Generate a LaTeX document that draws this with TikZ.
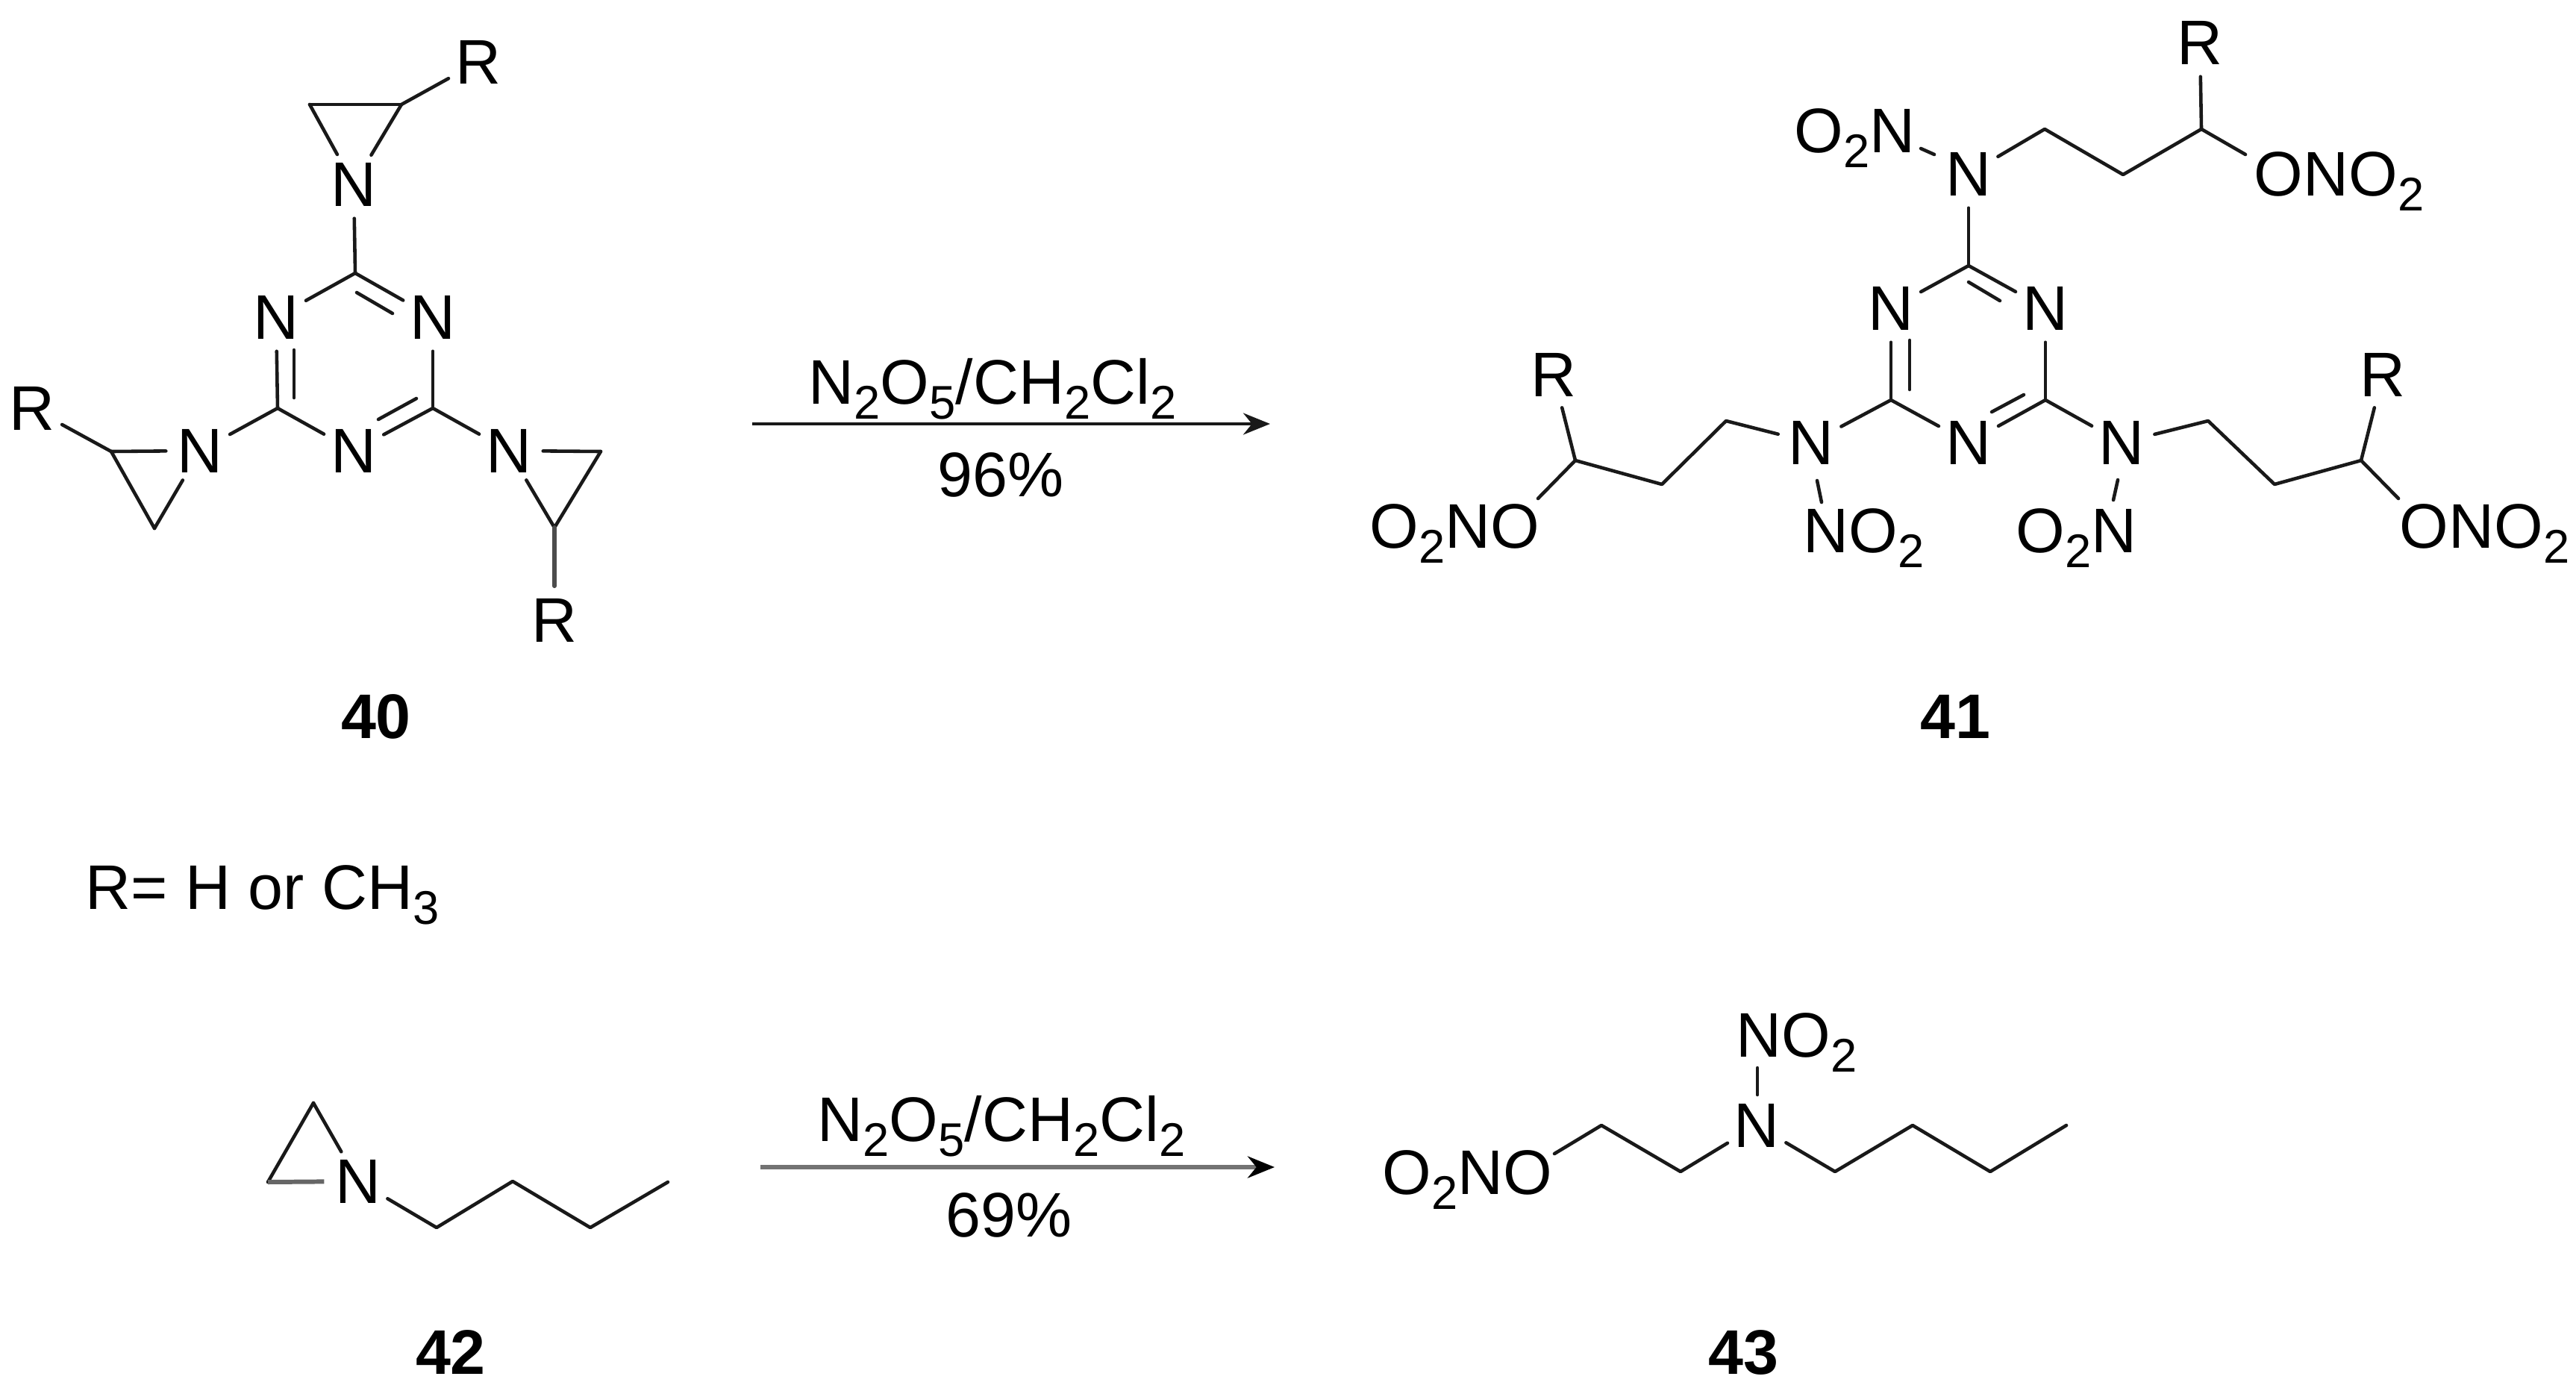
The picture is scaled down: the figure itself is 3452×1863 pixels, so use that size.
\documentclass[tikz,border=0pt]{standalone}
\usepackage{fontspec}
\setmainfont{Liberation Sans}
\usetikzlibrary{arrows.meta}
\newcommand{\lsb}[1]{\raisebox{-0.24em}{\fontsize{18pt}{18pt}\selectfont #1}}
\tikzset{
  x=0.01cm,y=-0.01cm,
  bond/.style={line width=1.3pt,draw=black!90,line cap=round,line join=round},
  greybond/.style={line width=1.7pt,draw=black!60,line cap=butt},
  atom/.style={circle,inner sep=0pt,minimum size=0.9cm,font=\fontsize{24pt}{24pt}\selectfont,text=black},
  lbl/.style={inner sep=0pt,anchor=base west,font=\fontsize{24pt}{24pt}\selectfont,text=black},
  cond/.style={inner sep=0pt,anchor=base,font=\fontsize{24pt}{24pt}\selectfont,text=black},
  cpd/.style={inner sep=0pt,anchor=center,font=\fontsize{24pt}{24pt}\bfseries\selectfont,text=black},
  rxn/.style={line width=1.1pt,draw=black!90,-{Stealth[length=0.36cm,width=0.29cm]}},
  rxngrey/.style={line width=1.6pt,draw=black!55,-{Stealth[length=0.36cm,width=0.29cm,color=black]}},
}
\begin{document}
\begin{tikzpicture}
\useasboundingbox (0,0) rectangle (3452,1863);
% ---------- compound 40
\node[atom] (aN1) at (474,247) {N};
\node[atom] (aN2) at (370,425) {N};
\node[atom] (aN3) at (580,425) {N};
\node[atom] (aN4) at (474,604) {N};
\node[atom] (aN5) at (268,604) {N};
\node[atom] (aN6) at (682,604) {N};
\node[atom] (aR1) at (641,83) {R};
\node[atom] (aR2) at (43,547) {R};
\node[atom] (aR3) at (743,831) {R};
\coordinate (aC1) at (476,366);
\coordinate (aC2) at (372,547);
\coordinate (aC3) at (580,547);
\coordinate (aZ1) at (415,140);
\coordinate (aZ2) at (538,140);
\coordinate (aZ3) at (149,605);
\coordinate (aZ4) at (207,708);
\coordinate (aZ5) at (805,605);
\coordinate (aZ6) at (743,707);
\coordinate (aD1) at (478,392);
\coordinate (aD2) at (526,420);
\coordinate (aD3) at (394,469);
\coordinate (aD4) at (394,533);
\coordinate (aD5) at (558,534);
\coordinate (aD6) at (507,562);
\draw[bond] (aN1) -- (aC1);
\draw[bond] (aC1) -- (aN2);
\draw[bond] (aC1) -- (aN3);
\draw[bond] (aD1) -- (aD2);
\draw[bond] (aN2) -- (aC2);
\draw[bond] (aD3) -- (aD4);
\draw[bond] (aN3) -- (aC3);
\draw[bond] (aC2) -- (aN4);
\draw[bond] (aC3) -- (aN4);
\draw[bond] (aD5) -- (aD6);
\draw[bond] (aC2) -- (aN5);
\draw[bond] (aC3) -- (aN6);
\draw[bond] (aZ1) -- (aZ2);
\draw[bond] (aZ1) -- (aN1);
\draw[bond] (aZ2) -- (aN1);
\draw[bond] (aZ2) -- (aR1);
\draw[bond] (aZ3) -- (aN5);
\draw[bond] (aZ3) -- (aZ4);
\draw[bond] (aZ4) -- (aN5);
\draw[bond] (aZ3) -- (aR2);
\draw[bond] (aZ5) -- (aN6);
\draw[bond] (aZ5) -- (aZ6);
\draw[bond] (aZ6) -- (aN6);
\draw[bond,line width=1.6pt,draw=black!70] (aZ6) -- (aR3);
\node[cpd] (lab40) at (504,960) {40};
% ---------- first arrow
\coordinate (ar1s) at (1008,568);
\coordinate (ar1e) at (1702,568);
\draw[rxn] (ar1s) -- (ar1e);
\node[cond] (c1a) at (1330,541) {N\lsb{2}O\lsb{5}/CH\lsb{2}Cl\lsb{2}};
\node[cond] (c1b) at (1341,665) {96\%};
% ---------- compound 41
\node[atom] (bN1) at (2638,233) {N};
\node[atom] (bN2) at (2534,413) {N};
\node[atom] (bN3) at (2741,413) {N};
\node[atom] (bN4) at (2638,593) {N};
\node[atom] (bN5) at (2427,593) {N};
\node[atom] (bN6) at (2843,593) {N};
\node[atom] (bR1) at (2948,57) {R};
\node[atom] (bR2) at (2082,502) {R};
\node[atom] (bR3) at (3193,502) {R};
\node[lbl] (bT1) at (2404,204) {O\lsb{2}N};
\node[lbl] (bT2) at (3020,262) {ONO\lsb{2}};
\node[lbl] (bT3) at (1835,734) {O\lsb{2}NO};
\node[lbl] (bT4) at (2416,740) {NO\lsb{2}};
\node[lbl] (bT5) at (2701,740) {O\lsb{2}N};
\node[lbl] (bT6) at (3215,734) {ONO\lsb{2}};
\coordinate (bC1) at (2638,356);
\coordinate (bC2) at (2534,536);
\coordinate (bC3) at (2741,536);
\coordinate (bA1) at (2740,173);
\coordinate (bA2) at (2845,234);
\coordinate (bA3) at (2950,173);
\coordinate (bB1) at (2313,564);
\coordinate (bB2) at (2227,649);
\coordinate (bB3) at (2111,617);
\coordinate (bE1) at (2959,564);
\coordinate (bE2) at (3048,649);
\coordinate (bE3) at (3164,617);
\coordinate (bD1) at (2638,378);
\coordinate (bD2) at (2680,403);
\coordinate (bD3) at (2559,456);
\coordinate (bD4) at (2559,522);
\coordinate (bD5) at (2712,529);
\coordinate (bD6) at (2669,552);
\coordinate (bF1) at (2574,199);
\coordinate (bF2) at (2592,207);
\coordinate (bF3) at (3009,207);
\coordinate (bF4) at (2061,668);
\coordinate (bF5) at (2435,644);
\coordinate (bF6) at (2441,673);
\coordinate (bF7) at (2838,643);
\coordinate (bF8) at (2832,670);
\coordinate (bF9) at (3214,668);
\draw[bond] (bN1) -- (bC1);
\draw[bond] (bC1) -- (bN2);
\draw[bond] (bC1) -- (bN3);
\draw[bond] (bD1) -- (bD2);
\draw[bond] (bN2) -- (bC2);
\draw[bond] (bD3) -- (bD4);
\draw[bond] (bN3) -- (bC3);
\draw[bond] (bC2) -- (bN4);
\draw[bond] (bC3) -- (bN4);
\draw[bond] (bD5) -- (bD6);
\draw[bond] (bC2) -- (bN5);
\draw[bond] (bC3) -- (bN6);
\draw[bond] (bN1) -- (bA1) -- (bA2) -- (bA3) -- (bF3);
\draw[bond] (bA3) -- (bR1);
\draw[bond] (bF1) -- (bF2);
\draw[bond] (bN5) -- (bB1) -- (bB2) -- (bB3) -- (bF4);
\draw[bond] (bB3) -- (bR2);
\draw[bond] (bF5) -- (bF6);
\draw[bond] (bN6) -- (bE1) -- (bE2) -- (bE3) -- (bF9);
\draw[bond] (bE3) -- (bR3);
\draw[bond] (bF7) -- (bF8);
\node[cpd] (lab41) at (2620,960) {41};
% ---------- R definition
\node[lbl] (rdef) at (114,1218) {R= H or CH\lsb{3}};
% ---------- compound 42
\node[atom] (cN) at (480,1583) {N};
\coordinate (cZ1) at (420,1478);
\coordinate (cZ2) at (359,1584);
\coordinate (cA1) at (585,1645);
\coordinate (cA2) at (687,1583);
\coordinate (cA3) at (791,1645);
\coordinate (cA4) at (895,1584);
\draw[bond] (cZ1) -- (cN);
\draw[bond] (cZ1) -- (cZ2);
\draw[greybond] (cZ2) -- (cN);
\draw[bond] (cN) -- (cA1) -- (cA2) -- (cA3) -- (cA4);
\node[cpd] (lab42) at (604,1812) {42};
% ---------- second arrow
\coordinate (ar2s) at (1019,1564);
\coordinate (ar2e) at (1708,1564);
\draw[rxngrey] (ar2s) -- (ar2e);
\node[cond] (c2a) at (1342,1529) {N\lsb{2}O\lsb{5}/CH\lsb{2}Cl\lsb{2}};
\node[cond] (c2b) at (1352,1657) {69\%};
% ---------- compound 43
\node[atom] (dN) at (2354,1508) {N};
\node[lbl] (dT1) at (2326,1416) {NO\lsb{2}};
\node[lbl] (dT2) at (1852,1600) {O\lsb{2}NO};
\coordinate (dG1) at (2355,1431);
\coordinate (dG2) at (2355,1467);
\coordinate (dL0) at (2083,1546);
\coordinate (dL1) at (2146,1508);
\coordinate (dL2) at (2252,1570);
\coordinate (dR1) at (2459,1570);
\coordinate (dR2) at (2563,1508);
\coordinate (dR3) at (2667,1570);
\coordinate (dR4) at (2769,1508);
\draw[bond] (dG1) -- (dG2);
\draw[bond] (dL0) -- (dL1) -- (dL2) -- (dN);
\draw[bond] (dN) -- (dR1) -- (dR2) -- (dR3) -- (dR4);
\node[cpd] (lab43) at (2336,1812) {43};
\end{tikzpicture}
\end{document}
